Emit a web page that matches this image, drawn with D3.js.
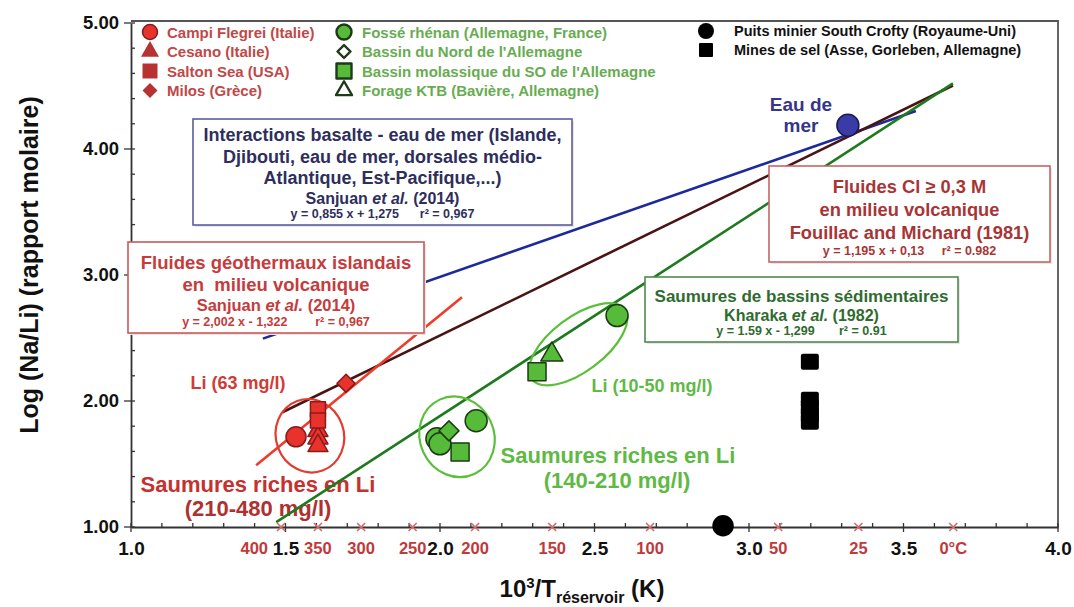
<!DOCTYPE html>
<html>
<head>
<meta charset="utf-8">
<script src="https://cdn.jsdelivr.net/npm/d3@7"></script>
<style>
  body { margin: 0; background: #fff; }
  text { font-family: "Liberation Sans", Arial, sans-serif; font-weight: bold; white-space: pre; }
</style>
</head>
<body>
<svg id="chart" width="1074" height="607" xml:space="preserve"></svg>
<script>
// ---- axis ticks ----
const xTicks = [1.0, 1.5, 2.0, 2.5, 3.0, 3.5, 4.0];
const yTicks = [1, 2, 3, 4, 5];
const tempTicks = [400, 350, 300, 250, 200, 150, 100, 50, 25, 0];
const tempLabels = ["400", "350", "300", "250", "200", "150", "100", "50", "25", "0°C"];

// ---- samples: [10^3/T, log(Na/Li)] ----
const campiFlegrei = [[1.534, 1.716]];
const cesano = [[1.605, 1.765], [1.605, 1.705], [1.605, 1.645]];
const saltonSea = [[1.605, 1.935], [1.605, 1.845]];
const milos = [[1.696, 2.14]];
const fosseRhenan = [[1.99, 1.70], [2.0, 1.66], [2.117, 1.843], [2.573, 2.678]];
const bassinNord = [[2.029, 1.763]];
const bassinMolassique = [[2.065, 1.596], [2.314, 2.233]];
const forageKTB = [[2.362, 2.368]];
const southCrofty = [[2.916, 1.01]];
const minesDeSel = [[3.197, 2.312], [3.197, 2.01], [3.197, 1.95], [3.197, 1.89], [3.197, 1.835]];
const eauDeMer = [[3.32, 4.189]];

// ---- regression lines: log(Na/Li) = slope * 10^3/T + intercept ----
const fitNames = ["basalte", "fouillac", "kharaka", "islande"];
const fitSlopes = [0.855, 1.195, 1.59, 2.002];
const fitIntercepts = [1.275, 0.13, -1.299, -1.322];
const fitXStart = [1.427, 1.49, 1.47, 1.405];
const fitXEnd = [3.54, 3.66, 3.66, 2.071];

const svg = d3.select("#chart");
const x = d3.scaleLinear().domain([1, 4]).range([131, 1058]);
const y = d3.scaleLinear().domain([1, 5]).range([527, 23]);
const FONT = "Liberation Sans, Arial, sans-serif";

const fitColor = { basalte: "#1c2a9a", fouillac: "#4a1414", kharaka: "#1d7a1d", islande: "#ee3b2a" };

// ---- free labels (drawn below the lines) ----
function label(txt, cx, cy, size, color) {
  svg.append("text").attr("x", cx).attr("y", cy).attr("text-anchor", "middle")
    .attr("dominant-baseline", "central").attr("font-size", size).attr("fill", color).text(txt);
}
label("Li (63 mg/l)", 238, 383, 18, "#d13b36");
label("Saumures riches en Li", 258, 484, 22, "#c5312e");
label("(210-480 mg/l)", 258, 508, 22, "#b03030");
label("Saumures riches en Li", 618, 455, 22, "#5fb945");
label("(140-210 mg/l)", 617, 480, 22, "#5fb945");
label("Li (10-50 mg/l)", 652, 386, 18, "#5fb945");
label("Eau de", 801, 104, 19, "#35358a");
label("mer", 801, 125, 19, "#35358a");

// ---- frame ----
svg.append("path")
  .attr("d", `M${x(1)},${y(5) - 2}H${x(4)}V${y(1)}`)
  .attr("fill", "none").attr("stroke", "#555").attr("stroke-width", 1.8);

// ---- x axis ----
const xAxis = svg.append("g").attr("transform", `translate(0,${y(1)})`)
  .call(d3.axisBottom(x).tickValues(xTicks).tickFormat(d3.format(".1f")).tickSize(0).tickPadding(15));
xAxis.select(".domain").attr("stroke", "#333").attr("stroke-width", 1.8);
xAxis.selectAll(".tick text").attr("font-size", 19).attr("fill", "#111")
  .attr("font-family", FONT).attr("font-weight", "bold");
const xMinor = d3.range(10, 41).map(d => d / 10);
svg.append("g").selectAll("line").data(xMinor).join("line")
  .attr("x1", d => x(d)).attr("x2", d => x(d))
  .attr("y1", d => y(1) - 4).attr("y2", d => (Math.abs(d * 2 - Math.round(d * 2)) < 1e-6 ? y(1) + 5 : y(1)))
  .attr("stroke", "#333").attr("stroke-width", 1.3);

// temperature markers (°C) along the x axis
const tx = t => x(1000 / (t + 273.15));
svg.append("g").selectAll("path").data(tempTicks).join("path")
  .attr("d", t => `M${tx(t) - 4},${y(1) - 4}L${tx(t) + 4},${y(1) + 4}M${tx(t) + 4},${y(1) - 4}L${tx(t) - 4},${y(1) + 4}`)
  .attr("stroke", "#d46a6a").attr("stroke-width", 1.6);
svg.append("g").selectAll("text").data(tempTicks).join("text")
  .attr("x", (t, i) => i === 0 ? tx(t) - 13 : tx(t))
  .attr("y", 548).attr("dominant-baseline", "central")
  .attr("text-anchor", (t, i) => i === 0 ? "end" : "middle")
  .attr("font-size", 16.5).attr("fill", "#c0393b")
  .text((t, i) => tempLabels[i]);

// ---- y axis ----
const yAxis = svg.append("g").attr("transform", `translate(${x(1)},0)`)
  .call(d3.axisLeft(y).tickValues(yTicks).tickFormat(d3.format(".2f")).tickSize(0).tickPadding(12));
yAxis.select(".domain").attr("stroke", "#333").attr("stroke-width", 1.8);
yAxis.selectAll(".tick text").attr("font-size", 18.5).attr("fill", "#111")
  .attr("font-family", FONT).attr("font-weight", "bold");
const yMinor = d3.range(5, 26).map(d => d / 5);
svg.append("g").selectAll("line").data(yMinor).join("line")
  .attr("y1", d => y(d)).attr("y2", d => y(d))
  .attr("x1", d => (Math.abs(d - Math.round(d)) < 1e-6 ? x(1) - 7 : x(1))).attr("x2", x(1) + 4)
  .attr("stroke", "#333").attr("stroke-width", 1.3);

// ---- axis titles ----
svg.append("text").attr("transform", "translate(38,265) rotate(-90)")
  .attr("text-anchor", "middle").attr("font-size", 25).attr("fill", "#111")
  .text("Log (Na/Li) (rapport molaire)");
const xt = svg.append("text").attr("x", 582).attr("y", 597).attr("text-anchor", "middle")
  .attr("font-size", 24).attr("fill", "#111");
xt.append("tspan").text("10");
xt.append("tspan").attr("font-size", 15).attr("dy", -9).text("3");
xt.append("tspan").attr("dy", 9).text("/T");
xt.append("tspan").attr("font-size", 16).attr("dy", 6).text("réservoir");
xt.append("tspan").attr("dy", -6).text(" (K)");

// ---- regression lines ----
const line = d3.line().x(d => x(d[0])).y(d => y(d[1]));
svg.append("g").selectAll("path").data(fitNames).join("path")
  .attr("d", (n, i) => line([
    [fitXStart[i], fitSlopes[i] * fitXStart[i] + fitIntercepts[i]],
    [fitXEnd[i], fitSlopes[i] * fitXEnd[i] + fitIntercepts[i]]]))
  .attr("fill", "none").attr("stroke", n => fitColor[n]).attr("stroke-width", 2.6);

// ---- annotation boxes ----
function box(bx, by, bw, bh, stroke, lines) {
  const g = svg.append("g");
  g.append("rect").attr("x", bx + 2).attr("y", by + 2).attr("width", bw).attr("height", bh)
    .attr("fill", "#e6e6e6");
  g.append("rect").attr("x", bx).attr("y", by).attr("width", bw).attr("height", bh)
    .attr("fill", "#fff").attr("stroke", stroke).attr("stroke-width", 1.6);
  lines.forEach(l => {
    const t = g.append("text").attr("x", bx + bw / 2).attr("y", l.y).attr("text-anchor", "middle")
      .attr("dominant-baseline", "central").attr("font-size", l.size).attr("fill", l.color);
    l.parts.forEach(p => {
      const s = t.append("tspan").text(p.t);
      if (p.i) s.attr("font-style", "italic");
    });
  });
}
const navy = "#2e2e5c";
box(193, 119, 379, 106, "#5d5d9c", [
  { y: 135, size: 18, color: navy, parts: [{ t: "Interactions basalte - eau de mer (Islande," }] },
  { y: 157, size: 18, color: navy, parts: [{ t: "Djibouti, eau de mer, dorsales médio-" }] },
  { y: 178, size: 18, color: navy, parts: [{ t: "Atlantique, Est-Pacifique,...)" }] },
  { y: 198, size: 16, color: navy, parts: [{ t: "Sanjuan " }, { t: "et al.", i: true }, { t: " (2014)" }] },
  { y: 214, size: 12.5, color: navy, parts: [{ t: "y = 0,855 x + 1,275      r² = 0,967" }] }
]);
const red1 = "#c63b3b";
box(128, 242, 296, 91, "#c85a5a", [
  { y: 262, size: 18.5, color: red1, parts: [{ t: "Fluides géothermaux islandais" }] },
  { y: 284, size: 18.5, color: red1, parts: [{ t: "en  milieu volcanique" }] },
  { y: 305, size: 16.5, color: red1, parts: [{ t: "Sanjuan " }, { t: "et al.", i: true }, { t: " (2014)" }] },
  { y: 322, size: 12.5, color: red1, parts: [{ t: "y = 2,002 x - 1,322        r² = 0,967" }] }
]);
const red2 = "#a83535";
box(769, 166, 281, 96, "#c86464", [
  { y: 186, size: 18.3, color: red2, parts: [{ t: "Fluides Cl ≥ 0,3 M" }] },
  { y: 209, size: 18.3, color: red2, parts: [{ t: "en milieu volcanique" }] },
  { y: 232, size: 18.3, color: red2, parts: [{ t: "Fouillac and Michard (1981)" }] },
  { y: 251, size: 12.5, color: red2, parts: [{ t: "y = 1,195 x + 0,13     r² = 0.982" }] }
]);
const green1 = "#2f6b2f";
box(645, 277, 313, 65, "#4e8a4e", [
  { y: 296, size: 17, color: green1, parts: [{ t: "Saumures de bassins sédimentaires" }] },
  { y: 315, size: 16, color: green1, parts: [{ t: "Kharaka " }, { t: "et al.", i: true }, { t: " (1982)" }] },
  { y: 331, size: 12.5, color: green1, parts: [{ t: "y = 1.59 x - 1,299       r² = 0.91" }] }
]);

// ---- grouping ellipses ----
function ellipse(cxv, cyv, rx, ry, rot, color) {
  svg.append("ellipse").attr("cx", 0).attr("cy", 0).attr("rx", rx).attr("ry", ry)
    .attr("transform", `translate(${x(cxv)},${y(cyv)}) rotate(${rot})`)
    .attr("fill", "none").attr("stroke", color).attr("stroke-width", 2.2);
}
ellipse(1.579, 1.724, 34, 37, -20, "#e23b30");
ellipse(2.055, 1.716, 37, 41, -25, "#5cbf3c");
ellipse(2.447, 2.45, 58, 27, -37, "#5cbf3c");

// ---- markers ----
const sym = {
  circle: s => d3.symbol(d3.symbolCircle, s * s * Math.PI / 4)(),
  square: s => d3.symbol(d3.symbolSquare, s * s)(),
  triangle: s => d3.symbol(d3.symbolTriangle, s * s * 0.433)(),
  diamond: s => d3.symbol(d3.symbolSquare, s * s / 2)()
};
function points(data, shape, size, fill, stroke) {
  svg.append("g").selectAll("path").data(data).join("path")
    .attr("d", sym[shape](size))
    .attr("transform", d => `translate(${x(d[0])},${y(d[1])})${shape === "diamond" ? " rotate(45)" : ""}`)
    .attr("fill", fill).attr("stroke", stroke).attr("stroke-width", 1.5).attr("stroke-linejoin", "round");
}
const redFill = "#e8332c", redEdge = "#8a1a1a";
points(cesano, "triangle", 20, redFill, redEdge);
points(saltonSea, "square", 15, redFill, redEdge);
points(campiFlegrei, "circle", 20, redFill, redEdge);
points(milos, "diamond", 18, redFill, redEdge);
const greenFill = "#56bb38", greenEdge = "#1b3b12";
points(fosseRhenan, "circle", 22, greenFill, greenEdge);
points(bassinNord, "diamond", 20, greenFill, greenEdge);
points(bassinMolassique, "square", 18, greenFill, greenEdge);
points(forageKTB, "triangle", 22, greenFill, greenEdge);
points(southCrofty, "circle", 20, "#000", "#000");
svg.append("g").selectAll("rect").data(minesDeSel).join("rect")
  .attr("x", d => x(d[0]) - 9).attr("y", d => y(d[1]) - 8).attr("width", 18).attr("height", 16)
  .attr("rx", 2).attr("fill", "#000");
points(eauDeMer, "circle", 22, "#3b3ba8", "#1a1a55");

// ---- legend ----
const legendRed = ["Campi Flegrei (Italie)", "Cesano (Italie)", "Salton Sea (USA)", "Milos (Grèce)"];
const legendGreen = ["Fossé rhénan (Allemagne, France)", "Bassin du Nord de l'Allemagne",
  "Bassin molassique du SO de l'Allemagne", "Forage KTB (Bavière, Allemagne)"];
const legendBlack = ["Puits minier South Crofty (Royaume-Uni)", "Mines de sel (Asse, Gorleben, Allemagne)"];
const redShapes = ["circle", "triangle", "square", "diamond"];
const greenShapes = [
  { s: "circle", f: greenFill }, { s: "diamond", f: "#fff" },
  { s: "square", f: greenFill }, { s: "triangle", f: "#fff" }];
const rowY = i => 32 + 19.5 * i;

const lg = svg.append("g");
legendRed.forEach((t, i) => {
  const shape = redShapes[i];
  lg.append("path").attr("d", sym[shape](shape === "diamond" ? 15 : shape === "triangle" ? 18 : 15))
    .attr("transform", `translate(150,${rowY(i)})${shape === "diamond" ? " rotate(45)" : ""}`)
    .attr("fill", i === 0 ? "#e8332c" : "#b83232").attr("stroke", i === 0 ? "#7a2020" : "none").attr("stroke-width", 1.5);
  lg.append("text").attr("x", 167).attr("y", rowY(i)).attr("dominant-baseline", "central")
    .attr("font-size", 15).attr("fill", "#c04848").text(t);
});
legendGreen.forEach((t, i) => {
  const g = greenShapes[i];
  lg.append("path").attr("d", sym[g.s](g.s === "diamond" ? 13 : g.s === "triangle" ? 16 : 15))
    .attr("transform", `translate(344,${rowY(i)})${g.s === "diamond" ? " rotate(45)" : ""}`)
    .attr("fill", g.f).attr("stroke", "#1f3a1a").attr("stroke-width", 2.4).attr("stroke-linejoin", "round");
  lg.append("text").attr("x", 362).attr("y", rowY(i)).attr("dominant-baseline", "central")
    .attr("font-size", 15).attr("fill", "#68ac52").text(t);
});
legendBlack.forEach((t, i) => {
  const yy = 31 + 19 * i;
  if (i === 0) lg.append("circle").attr("cx", 706).attr("cy", yy).attr("r", 8).attr("fill", "#000");
  else lg.append("rect").attr("x", 699).attr("y", yy - 7).attr("width", 14).attr("height", 14).attr("rx", 1).attr("fill", "#000");
  lg.append("text").attr("x", 734).attr("y", yy).attr("dominant-baseline", "central")
    .attr("font-size", 14.5).attr("fill", "#111").text(t);
});
</script>
</body>
</html>
